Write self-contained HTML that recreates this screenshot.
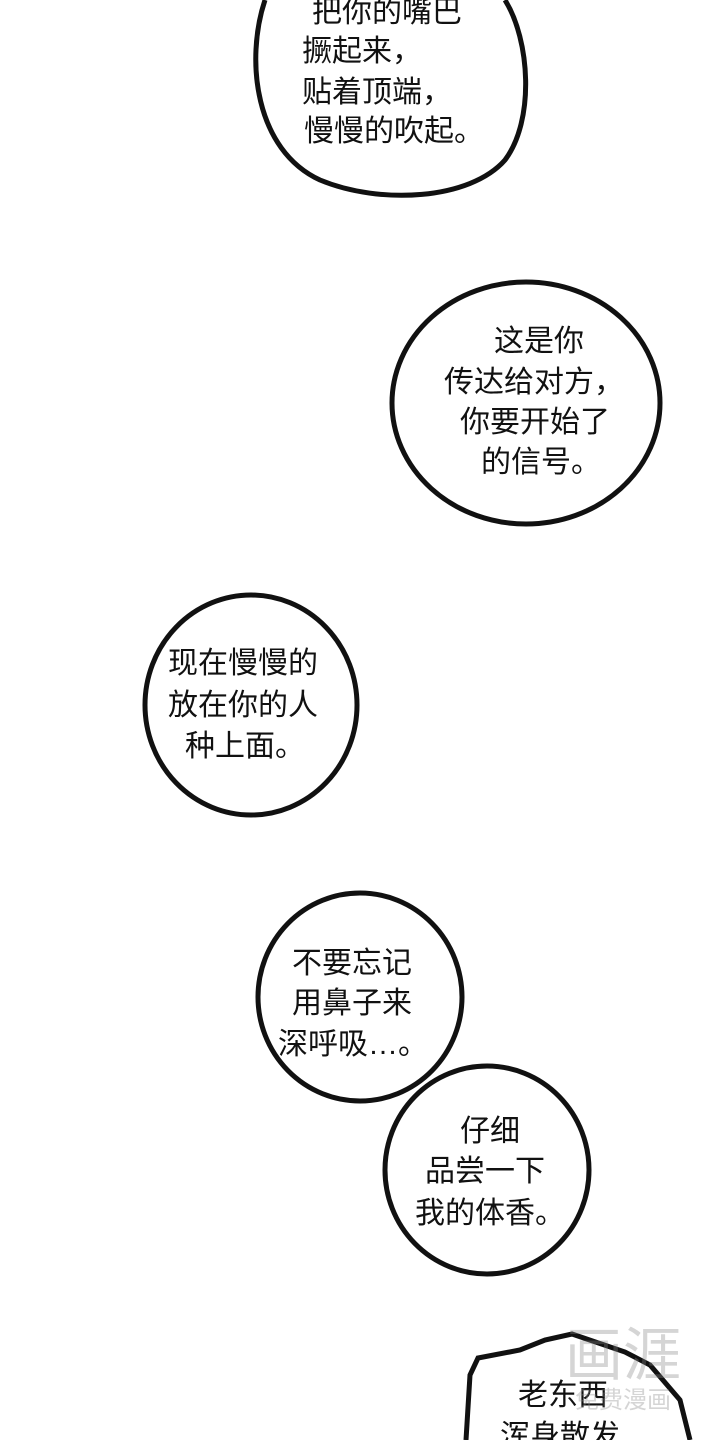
<!DOCTYPE html>
<html><head><meta charset="utf-8">
<style>
html,body{margin:0;padding:0;background:#fff;}
svg{display:block;}
text{font-family:"Liberation Sans","Noto Sans CJK SC",sans-serif;font-size:30px;fill:#111;}
</style></head>
<body>
<svg width="720" height="1440" viewBox="0 0 720 1440" xmlns="http://www.w3.org/2000/svg">
<rect width="720" height="1440" fill="#fff"/>
<g fill="#fff" stroke="#111" stroke-width="5">
<path d="M265 0 C245 60 255 150 320 180 C380 205 470 200 505 160 C535 120 530 40 505 0"/>
<ellipse cx="526" cy="403" rx="134" ry="121"/>
<ellipse cx="251" cy="705" rx="106" ry="110"/>
<ellipse cx="360" cy="997" rx="102" ry="104"/>
<ellipse cx="487" cy="1170" rx="102" ry="104"/>
<path d="M466 1440 L470 1375 L478 1358 L520 1350 L545 1340 L572 1334 L625 1352 L650 1365 L680 1400 L690 1440"/>
</g>
<text x="312" y="22">把你的嘴巴</text>
<text x="302" y="61">撅起来，</text>
<text x="302" y="102">贴着顶端，</text>
<text x="304" y="141">慢慢的吹起。</text>

<text x="494" y="351">这是你</text>
<text x="444" y="392">传达给对方，</text>
<text x="460" y="432">你要开始了</text>
<text x="481" y="472">的信号。</text>

<text x="168" y="673">现在慢慢的</text>
<text x="168" y="715">放在你的人</text>
<text x="185" y="756">种上面。</text>

<text x="292" y="973">不要忘记</text>
<text x="292" y="1013">用鼻子来</text>
<text x="278" y="1054">深呼吸…。</text>

<text x="460" y="1141">仔细</text>
<text x="425" y="1181">品尝一下</text>
<text x="415" y="1223">我的体香。</text>

<text x="518" y="1405">老东西</text>
<text x="500" y="1446">浑身散发</text>
<g opacity="0.35">
<text x="565" y="1375" style="font-size:58px;fill:#888">画涯</text>
<text x="575" y="1408" style="font-size:24px;fill:#888">免费漫画</text>
</g>
</svg>
</body></html>
